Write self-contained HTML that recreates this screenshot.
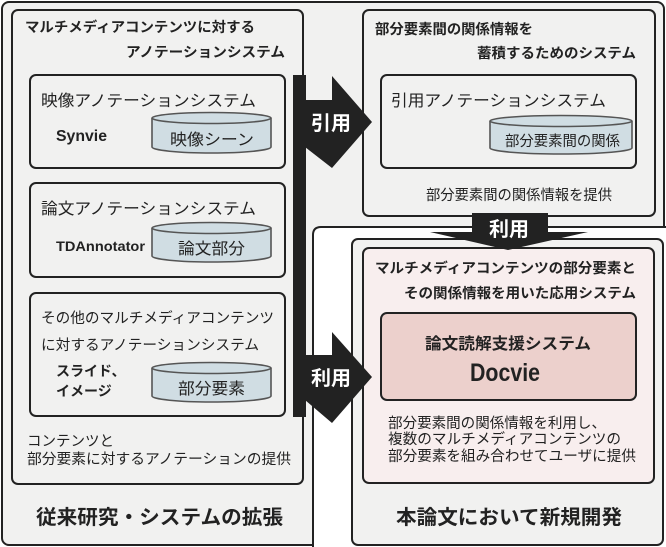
<!DOCTYPE html>
<html><head><meta charset="utf-8"><style>
html,body{margin:0;padding:0;background:#fff;}
svg{display:block;}
text{font-family:"Liberation Sans","Noto Sans CJK JP",sans-serif;fill:#222;}
.b{font-weight:bold;}
</style></head><body>
<svg width="666" height="547" viewBox="0 0 666 547" xmlns="http://www.w3.org/2000/svg">
<rect x="2" y="2" width="662" height="543" rx="7" fill="#f1f1f0" stroke="#222" stroke-width="2"/>
<path d="M313,545 L313,235 Q313,227 321,227 L667,227 L667,549 L313,549 Z" fill="#fff" stroke="#222" stroke-width="2"/>
<!-- left box -->
<rect x="12" y="10" width="291" height="474" rx="6" fill="#f1f1f0" stroke="#222" stroke-width="2"/>
<text class="b" x="25" y="32" font-size="14" textLength="230" lengthAdjust="spacingAndGlyphs">マルチメディアコンテンツに対する</text>
<text class="b" x="126" y="57" font-size="14" textLength="159" lengthAdjust="spacingAndGlyphs">アノテーションシステム</text>

<rect x="30" y="75" width="255" height="93" rx="6" fill="#f1f1f0" stroke="#222" stroke-width="2"/>
<text x="41" y="106" font-size="16" textLength="215" lengthAdjust="spacingAndGlyphs">映像アノテーションシステム</text>
<text class="b" x="56" y="141" font-size="16" textLength="51" lengthAdjust="spacingAndGlyphs">Synvie</text>
<g stroke="#555" stroke-width="1.6" fill="#d0dde3">
<path d="M152,118 L152,147 A59.5,6 0 0 0 271,147 L271,118"/>
<ellipse cx="211.5" cy="118" rx="59.5" ry="5.5"/>
</g>
<text x="170" y="145" font-size="16" textLength="84" lengthAdjust="spacingAndGlyphs">映像シーン</text>

<rect x="30" y="183" width="255" height="94" rx="6" fill="#f1f1f0" stroke="#222" stroke-width="2"/>
<text x="41" y="214" font-size="16" textLength="215" lengthAdjust="spacingAndGlyphs">論文アノテーションシステム</text>
<text class="b" x="56" y="251" font-size="14" textLength="89" lengthAdjust="spacingAndGlyphs">TDAnnotator</text>
<g stroke="#555" stroke-width="1.6" fill="#d0dde3">
<path d="M152,228 L152,256 A59.5,6 0 0 0 271,256 L271,228"/>
<ellipse cx="211.5" cy="228" rx="59.5" ry="5.5"/>
</g>
<text x="178" y="254" font-size="16" textLength="67" lengthAdjust="spacingAndGlyphs">論文部分</text>

<rect x="30" y="293" width="255" height="123" rx="6" fill="#f1f1f0" stroke="#222" stroke-width="2"/>
<text x="41" y="323" font-size="14.5" textLength="233" lengthAdjust="spacingAndGlyphs">その他のマルチメディアコンテンツ</text>
<text x="41" y="350" font-size="14.5" textLength="218" lengthAdjust="spacingAndGlyphs">に対するアノテーションシステム</text>
<text class="b" x="56" y="376" font-size="14">スライド、</text>
<text class="b" x="56" y="396" font-size="14">イメージ</text>
<g stroke="#555" stroke-width="1.6" fill="#d0dde3">
<path d="M152,368 L152,396 A59.5,6 0 0 0 271,396 L271,368"/>
<ellipse cx="211.5" cy="368" rx="59.5" ry="5.5"/>
</g>
<text x="178" y="394" font-size="16" textLength="67" lengthAdjust="spacingAndGlyphs">部分要素</text>

<text x="27" y="446" font-size="14.5">コンテンツと</text>
<text x="27" y="464" font-size="14.5" textLength="264" lengthAdjust="spacingAndGlyphs">部分要素に対するアノテーションの提供</text>
<text class="b" x="36" y="524" font-size="20" textLength="247" lengthAdjust="spacingAndGlyphs">従来研究・システムの拡張</text>

<!-- top right box -->
<rect x="363" y="10" width="292" height="206" rx="6" fill="#f1f1f0" stroke="#222" stroke-width="2"/>
<text class="b" x="375" y="34" font-size="14" textLength="158" lengthAdjust="spacingAndGlyphs">部分要素間の関係情報を</text>
<text class="b" x="477" y="58" font-size="14" textLength="159" lengthAdjust="spacingAndGlyphs">蓄積するためのシステム</text>
<rect x="381" y="75" width="255" height="93" rx="6" fill="#f1f1f0" stroke="#222" stroke-width="2"/>
<text x="391" y="106" font-size="16" textLength="215" lengthAdjust="spacingAndGlyphs">引用アノテーションシステム</text>
<g stroke="#555" stroke-width="1.6" fill="#d0dde3">
<path d="M490,121 L490,148 A71,6 0 0 0 632,148 L632,121"/>
<ellipse cx="561" cy="121" rx="71" ry="5.5"/>
</g>
<text x="505" y="146" font-size="14.5" textLength="115" lengthAdjust="spacingAndGlyphs">部分要素間の関係</text>
<text x="426" y="200" font-size="14.5" textLength="186" lengthAdjust="spacingAndGlyphs">部分要素間の関係情報を提供</text>

<!-- right bottom gray box -->
<rect x="352" y="239" width="311" height="306" rx="6" fill="#f1f1f0" stroke="#222" stroke-width="2"/>
<rect x="363" y="248" width="291" height="235" rx="6" fill="#f8eeee" stroke="#222" stroke-width="2"/>
<text class="b" x="375" y="273" font-size="14" textLength="261" lengthAdjust="spacingAndGlyphs">マルチメディアコンテンツの部分要素と</text>
<text class="b" x="404" y="298" font-size="14" textLength="232" lengthAdjust="spacingAndGlyphs">その関係情報を用いた応用システム</text>
<rect x="381" y="313" width="255" height="87" rx="6" fill="#ecd0cc" stroke="#222" stroke-width="2"/>
<text class="b" x="425" y="349" font-size="16" textLength="166" lengthAdjust="spacingAndGlyphs">論文読解支援システム</text>
<text class="b" x="470" y="381" font-size="25" textLength="70" lengthAdjust="spacingAndGlyphs">Docvie</text>
<text x="388" y="428" font-size="14.5" textLength="218" lengthAdjust="spacingAndGlyphs">部分要素間の関係情報を利用し、</text>
<text x="388" y="444" font-size="14.5" textLength="233" lengthAdjust="spacingAndGlyphs">複数のマルチメディアコンテンツの</text>
<text x="388" y="461" font-size="14.5" textLength="248" lengthAdjust="spacingAndGlyphs">部分要素を組み合わせてユーザに提供</text>
<text class="b" x="396" y="524" font-size="20" textLength="226" lengthAdjust="spacingAndGlyphs">本論文において新規開発</text>

<!-- black bar + arrows (drawn on top) -->
<rect x="293" y="75" width="13" height="342" fill="#222"/>
<polygon points="305,100 332,100 332,76 372,122 332,168 305,147" fill="#222"/>
<text class="b" x="331" y="130" font-size="20" text-anchor="middle" style="fill:#fff">引用</text>
<polygon points="305,355 332,355 332,332 372,377 332,423 305,400" fill="#222"/>
<text class="b" x="331" y="385" font-size="20" text-anchor="middle" style="fill:#fff">利用</text>

<polygon points="472,213 548,213 548,232 588,232 508,250 430,232 472,232" fill="#222"/>
<text class="b" x="509" y="236" font-size="20" text-anchor="middle" style="fill:#fff">利用</text>
</svg>
</body></html>
